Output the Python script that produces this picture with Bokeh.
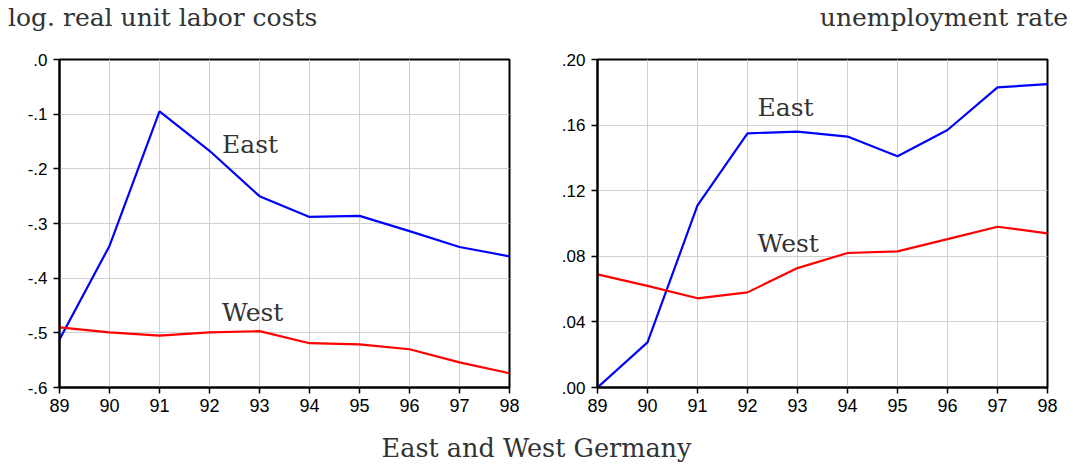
from bokeh.plotting import figure
from bokeh.models import Label, Div, FixedTicker
from bokeh.layouts import row, column
from bokeh.embed import file_html
from bokeh.resources import INLINE

years = [89, 90, 91, 92, 93, 94, 95, 96, 97, 98]
year_labels = ["89", "90", "91", "92", "93", "94", "95", "96", "97", "98"]

ulc_east = [-0.512, -0.341, -0.095, -0.167, -0.250, -0.288, -0.286, -0.314, -0.343, -0.360]
ulc_west = [-0.490, -0.499, -0.505, -0.499, -0.497, -0.519, -0.521, -0.530, -0.554, -0.574]

unemp_east = [0.000, 0.0275, 0.111, 0.155, 0.156, 0.153, 0.141, 0.157, 0.183, 0.185]
unemp_west = [0.069, 0.062, 0.0544, 0.058, 0.0728, 0.082, 0.083, 0.0905, 0.098, 0.094]

left_ticks = [-0.6, -0.5, -0.4, -0.3, -0.2, -0.1, 0.0]
left_tick_labels = ["-.6", "-.5", "-.4", "-.3", "-.2", "-.1", ".0"]
right_ticks = [0.0, 0.04, 0.08, 0.12, 0.16, 0.20]
right_tick_labels = [".00", ".04", ".08", ".12", ".16", ".20"]

left_title = "log. real unit labor costs"
right_title = "unemployment rate"
bottom_title = "East and West Germany"

SERIF = "DejaVu Serif"
SANS = "Liberation Sans"
TXT = "#333333"


def make_panel(width, bl, br, yr, yticks, ylabels, east, west, east_pos, west_pos):
    p = figure(width=width, height=387, x_range=(89, 98), y_range=yr,
               output_backend="svg", toolbar_location=None,
               min_border_left=bl, min_border_right=br, min_border_top=23, min_border_bottom=36)
    p.background_fill_color = "white"
    p.border_fill_color = "white"
    p.outline_line_color = "black"
    p.outline_line_width = 2
    p.outline_line_alpha = 1
    for ax in (p.xaxis[0], p.yaxis[0]):
        ax.axis_line_color = "black"
        ax.axis_line_width = 2
        ax.major_tick_line_color = "black"
        ax.major_tick_line_width = 1.5
        ax.major_tick_out = 6
        ax.major_tick_in = 0
        ax.minor_tick_line_color = None
        ax.major_label_text_font = SANS
        ax.major_label_text_color = "black"
    p.xaxis.major_label_standoff = 5
    p.yaxis.major_label_standoff = 6
    p.xaxis.major_label_text_font_size = "18px"
    p.yaxis.major_label_text_font_size = "17px"
    p.xaxis.ticker = FixedTicker(ticks=years)
    p.xaxis.major_label_overrides = dict(zip(years, year_labels))
    p.yaxis.ticker = FixedTicker(ticks=yticks)
    p.yaxis.major_label_overrides = dict(zip(yticks, ylabels))
    p.grid.grid_line_color = "#d0d0d0"
    p.grid.grid_line_width = 1
    p.line(years, east, line_color="#0000ff", line_width=2.2)
    p.line(years, west, line_color="#ff0000", line_width=2.2)
    for txt, (x, y) in (("East", east_pos), ("West", west_pos)):
        p.add_layout(Label(x=x, y=y, text=txt, text_font=SERIF, text_font_size="25px",
                           text_color=TXT, text_baseline="middle", text_align="left"))
    return p


p1 = make_panel(548, 59, 39, (-0.6, 0.0), left_ticks, left_tick_labels, ulc_east, ulc_west,
                (92.25, -0.155), (92.25, -0.462))
p2 = make_panel(525, 49, 26, (0.0, 0.20), right_ticks, right_tick_labels, unemp_east, unemp_west,
                (92.2, 0.1706), (92.2, 0.088))

top_div = Div(
    text=(f'<div style="display:flex;justify-content:space-between;width:1060px;'
          f'height:36px;line-height:36px;">'
          f'<span>{left_title}</span><span>{right_title}</span></div>'),
    width=1073, height=36, margin=0,
    styles={"font-family": SERIF, "font-size": "25px", "color": TXT,
            "padding-left": "8px", "width": "1073px", "height": "36px"})

bottom_div = Div(text=bottom_title, width=1073, height=43, margin=0,
                 styles={"text-align": "center", "font-family": SERIF, "font-size": "25.5px",
                         "color": TXT, "padding-top": "7px", "width": "1073px"})

layout = column(top_div, row(p1, p2), bottom_div)
open("out.html", "w").write(file_html(layout, INLINE))
